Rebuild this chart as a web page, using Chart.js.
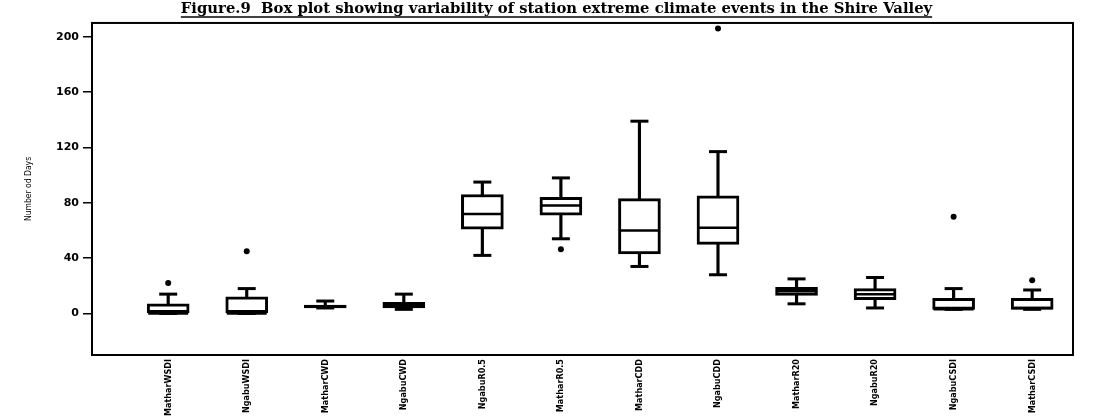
<!DOCTYPE html>
<html>
<head>
<meta charset="utf-8">
<script src="https://cdn.jsdelivr.net/npm/chart.js@4/dist/chart.umd.min.js"></script>
<style>
    html, body { margin: 0; padding: 0; background: #fff; }
    #wrap { width: 1113px; height: 417px; }
</style>
</head>
<body>
<div id="wrap"><canvas id="boxChart"></canvas></div>
<script>
// Station indices
const stations = ['MatharWSDI', 'NgabuWSDI', 'MatharCWD', 'NgabuCWD', 'NgabuR0.5', 'MatharR0.5',
    'MatharCDD', 'NgabuCDD', 'MatharR20', 'NgabuR20', 'NgabuCSDI', 'MatharCSDI'];
const whiskerLow  = [0, 0, 4, 3, 42, 54, 34, 28, 7, 4, 3, 3];
const quartile1   = [0, 0, 4, 4, 61, 71, 43, 50, 13, 10, 3, 3];
const medians     = [0, 0, 5, 6, 72, 78, 60, 62, 16, 14, 3, 4];
const quartile3   = [7, 12, 6, 8, 86, 84, 83, 85, 19, 18, 11, 11];
const whiskerHigh = [14, 18, 9, 14, 95, 98, 139, 117, 25, 26, 18, 17];
// outliers: station index and value
const outlierIdx  = [0, 1, 5, 7, 10, 11];
const outlierVal  = [22, 45, 46.5, 206, 70, 24];
const yTicks = [0, 40, 80, 120, 160, 200];

const titleText = 'Figure.9  Box plot showing variability of station extreme climate events in the Shire Valley';
const narrowFont = "'DejaVu Sans Condensed', 'Liberation Sans', Arial, sans-serif";

// draws the frame round the plot and the underline of the title
const framePlugin = {
    id: 'frame',
    afterDraw(chart) {
        const ctx = chart.ctx;
        const a = chart.chartArea;
        ctx.save();
        ctx.strokeStyle = '#000';
        ctx.lineWidth = 2;
        ctx.strokeRect(a.left, a.top, a.right - a.left, a.bottom - a.top);

        const tb = chart.titleBlock;
        if (tb) {
            const f = tb.options.font;
            ctx.font = 'bold ' + f.size + 'px ' + f.family;
            const w = ctx.measureText(titleText).width;
            const cx = tb.left + tb.width / 2;
            const y = tb.top + 17;
            ctx.lineWidth = 1.5;
            ctx.beginPath();
            ctx.moveTo(cx - w / 2, y);
            ctx.lineTo(cx + w / 2, y);
            ctx.stroke();
        }
        ctx.restore();
    }
};

const ctx = document.getElementById('boxChart').getContext('2d');
new Chart(ctx, {
    type: 'bar',
    data: {
        datasets: [{
            // whiskers
            label: 'range',
            data: stations.map((s, i) => ({ x: i, y: [whiskerLow[i], whiskerHigh[i]] })),
            backgroundColor: '#000',
            borderWidth: 0,
            barThickness: 2.5,
            grouped: false,
            order: 4
        }, {
            // boxes
            label: 'iqr',
            data: stations.map((s, i) => ({ x: i, y: [quartile1[i], quartile3[i]] })),
            backgroundColor: '#fff',
            borderColor: '#000',
            borderWidth: 3,
            borderSkipped: false,
            barThickness: 42,
            grouped: false,
            order: 3
        }, {
            type: 'scatter',
            label: 'median',
            data: stations.map((s, i) => ({ x: i, y: medians[i] })),
            pointStyle: 'line',
            pointRadius: 20,
            borderColor: '#000',
            borderWidth: 2.5,
            order: 2
        }, {
            type: 'scatter',
            label: 'caps',
            data: stations.map((s, i) => ({ x: i, y: whiskerHigh[i] }))
                .concat(stations.map((s, i) => ({ x: i, y: whiskerLow[i] }))),
            pointStyle: 'line',
            pointRadius: 9,
            borderColor: '#000',
            borderWidth: 3,
            order: 1
        }, {
            type: 'scatter',
            label: 'outliers',
            data: outlierIdx.map((idx, k) => ({ x: idx, y: outlierVal[k] })),
            pointStyle: 'circle',
            pointRadius: 3,
            backgroundColor: '#000',
            borderColor: '#000',
            borderWidth: 0,
            order: 0
        }]
    },
    options: {
        responsive: true,
        maintainAspectRatio: false,
        animation: false,
        events: [],
        layout: { padding: 0 },
        plugins: {
            legend: { display: false },
            tooltip: { enabled: false },
            title: {
                display: true,
                text: titleText,
                color: '#000',
                font: { family: "'DejaVu Serif', serif", size: 14.8, weight: 'bold' },
                padding: { top: 0, bottom: 5.2 }
            }
        },
        scales: {
            x: {
                type: 'linear',
                min: -0.97,
                max: 11.52,
                offset: false,
                grid: { display: false, drawTicks: false },
                border: { display: false },
                afterBuildTicks: axis => { axis.ticks = stations.map((s, i) => ({ value: i })); },
                afterFit: scale => { scale.height = 62; },
                ticks: {
                    autoSkip: false,
                    minRotation: 90,
                    maxRotation: 90,
                    padding: 4,
                    color: '#000',
                    font: { family: narrowFont, size: 9, weight: 'bold' },
                    callback: v => stations[v]
                }
            },
            y: {
                min: -30,
                max: 210,
                afterBuildTicks: axis => { axis.ticks = yTicks.map(v => ({ value: v })); },
                afterFit: scale => { scale.width = 92; },
                grid: {
                    drawOnChartArea: false,
                    drawTicks: true,
                    tickLength: 9,
                    color: '#000',
                    lineWidth: 1.5
                },
                border: { display: false },
                ticks: {
                    padding: 4,
                    color: '#000',
                    font: { family: "'DejaVu Sans', sans-serif", size: 11, weight: 'bold' }
                },
                title: {
                    display: true,
                    text: 'Number od Days',
                    color: '#000',
                    padding: { top: 24, bottom: 0 },
                    font: { family: narrowFont, size: 8.5 }
                }
            },
            y2: {
                position: 'right',
                display: true,
                grid: { display: false },
                border: { display: false },
                ticks: { display: false },
                afterFit: scale => { scale.width = 40; }
            }
        }
    },
    plugins: [framePlugin]
});
</script>
</body>
</html>
